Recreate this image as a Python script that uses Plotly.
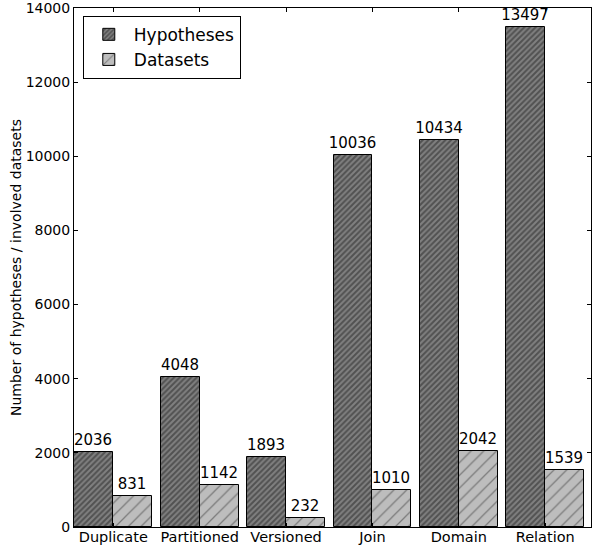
import plotly.graph_objects as go

categories = ["Duplicate", "Partitioned", "Versioned", "Join", "Domain", "Relation"]
hypotheses = [2036, 4048, 1893, 10036, 10434, 13497]
datasets = [831, 1142, 232, 1010, 2042, 1539]
y_ticks = [0, 2000, 4000, 6000, 8000, 10000, 12000, 14000]

FONT = "DejaVu Sans"
x = list(range(len(categories)))
bw = 0.45

fig = go.Figure()
fig.add_trace(go.Bar(
    x=[i - bw / 2 for i in x], y=hypotheses, width=bw, name="Hypotheses",
    text=[str(v) for v in hypotheses], textposition="outside",
    constraintext="none",
    textfont=dict(family=FONT, size=15, color="black"), cliponaxis=False,
    marker=dict(color="#6e6e6e", line=dict(color="black", width=1),
                pattern=dict(shape="/", bgcolor="#808080", fgcolor="#222222",
                             size=4, solidity=0.5, fillmode="overlay")),
))
fig.add_trace(go.Bar(
    x=[i + bw / 2 for i in x], y=datasets, width=bw, name="Datasets",
    text=[str(v) for v in datasets], textposition="outside",
    constraintext="none",
    textfont=dict(family=FONT, size=15, color="black"), cliponaxis=False,
    marker=dict(color="#bdbdbd", line=dict(color="black", width=1),
                pattern=dict(shape="/", bgcolor="#bdbdbd", fgcolor="#3a3a3a",
                             size=9, solidity=0.14, fillmode="overlay")),
))

fig.update_layout(
    width=592, height=546,
    margin=dict(l=74, r=1, t=8, b=19, autoexpand=False),
    paper_bgcolor="white", plot_bgcolor="white",
    font=dict(family=FONT, size=14, color="black"),
    barmode="overlay", bargap=0,
    showlegend=True,
    legend=dict(x=0.017, y=0.985, xanchor="left", yanchor="top",
                bgcolor="white", bordercolor="black", borderwidth=1,
                font=dict(family=FONT, size=17, color="black"),
                itemwidth=40, tracegroupgap=0),
    xaxis=dict(range=[-0.455, 5.53], tickvals=x, ticktext=categories,
               automargin=False, ticklabelstandoff=-3,
               showline=True, linecolor="black", linewidth=1, mirror="ticks",
               ticks="inside", ticklen=4, tickcolor="black", showgrid=False,
               zeroline=False, tickfont=dict(family=FONT, size=14.5)),
    yaxis=dict(range=[0, 14000], tickvals=y_ticks,
               ticktext=[str(v) for v in y_ticks], automargin=False,
               ticklabeloverflow="allow",
               showline=True, linecolor="black", linewidth=1, mirror="ticks",
               ticks="inside", ticklen=4, tickcolor="black", showgrid=False,
               zeroline=False, tickfont=dict(family=FONT, size=14),
               title=dict(text="Number of hypotheses / involved datasets",
                          font=dict(family=FONT, size=14), standoff=0)),
)

fig.write_html(
    "out.html",
    config={"displayModeBar": False},
    post_script="document.body.style.margin='0';document.body.style.overflow='hidden';",
)
